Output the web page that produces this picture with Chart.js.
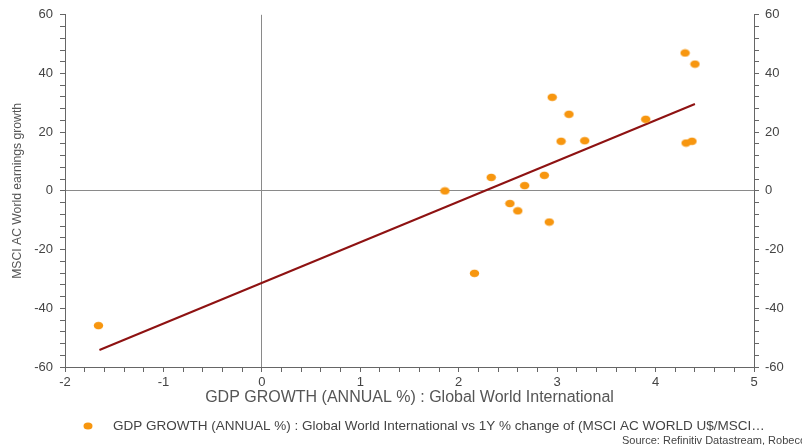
<!DOCTYPE html>
<html>
<head>
<meta charset="utf-8">
<script src="https://cdn.jsdelivr.net/npm/chart.js@4.4.0/dist/chart.umd.min.js"></script>
<style>
  html, body { margin: 0; padding: 0; background: #fff; }
  #wrap { width: 802px; height: 445px; position: relative; }
</style>
</head>
<body>
<div id="wrap"><canvas id="scatter"></canvas></div>
<script>
// GDP growth (x) vs MSCI AC World earnings growth (y)
var gdpGrowth = [-1.66, 1.86, 2.16, 2.33, 2.52, 2.60, 2.67, 2.87, 2.92, 2.95, 3.04, 3.12, 3.28, 3.90, 4.30, 4.31, 4.37, 4.40];
var earningsGrowth = [-45.9, 0.0, -28.1, 4.6, -4.3, -6.8, 1.8, 5.3, -10.6, 31.9, 16.9, 26.1, 17.1, 24.4, 47.0, 16.3, 16.9, 43.2];

// trend line end points
var trendX = [-1.65, 4.40];
var trendY = [-54.2, 29.6];

var xTicks = [-2, -1, 0, 1, 2, 3, 4, 5];
var yTicks = [-60, -40, -20, 0, 20, 40, 60];

var xTitle = 'GDP GROWTH (ANNUAL %) : Global World International';
var yTitle = 'MSCI AC World earnings growth';
var legendText = 'GDP GROWTH (ANNUAL %) : Global World International vs 1Y % change of (MSCI AC WORLD U$/MSCI\u2026';
var sourceText = 'Source: Refinitiv Datastream, Robeco';

var orange = '#F7960F';
var darkRed = '#8E1212';
var axisGrey = '#666';
var textGrey = '#444';
var FONT = '"Liberation Sans", Arial, sans-serif';

var punkte = gdpGrowth.map(function(x, i) { return { x: x, y: earningsGrowth[i] }; });
var linie = trendX.map(function(x, i) { return { x: x, y: trendY[i] }; });

// slightly flat dot, like the original export
var dot = document.createElement('canvas');
dot.width = 11;
dot.height = 9;
(function() {
    var d = dot.getContext('2d');
    d.fillStyle = orange;
    d.beginPath();
    d.ellipse(5.5, 4.5, 4.7, 3.8, 0, 0, Math.PI * 2);
    d.fill();
})();

function isMajor(v, list) {
    return list.some(function(t) { return Math.abs(t - v) < 1e-6; });
}

// legend + source drawn by hand below the axis
var extraText = {
    id: 'extraText',
    afterDraw: function(chart) {
        var c = chart.ctx;
        c.save();
        c.fillStyle = orange;
        c.beginPath();
        c.ellipse(88, 426, 4.5, 3.6, 0, 0, Math.PI * 2);
        c.fill();
        c.fillStyle = textGrey;
        c.font = '13.5px ' + FONT;
        c.textBaseline = 'middle';
        c.textAlign = 'left';
        c.fillText(legendText, 113, 426);
        c.font = '11px ' + FONT;
        c.fillText(sourceText, 622, 441);
        c.restore();
    }
};

var ctx = document.getElementById('scatter').getContext('2d');
var chart = new Chart(ctx, {
    type: 'scatter',
    data: {
        datasets: [{
            label: 'points',
            data: punkte,
            pointStyle: dot,
            backgroundColor: orange,
            borderColor: orange,
            order: 1
        }, {
            label: 'trend',
            type: 'line',
            data: linie,
            borderColor: darkRed,
            borderWidth: 2,
            pointRadius: 0,
            fill: false,
            order: 2
        }]
    },
    options: {
        responsive: true,
        maintainAspectRatio: false,
        animation: false,
        layout: { padding: { left: 10, right: 0, top: 14, bottom: 38 } },
        plugins: {
            legend: { display: false },
            tooltip: { enabled: false }
        },
        scales: {
            x: {
                type: 'linear',
                min: -2,
                max: 5,
                afterBuildTicks: function(s) {
                    var t = [];
                    for (var i = -20; i <= 50; i += 2) t.push({ value: i / 10 });
                    s.ticks = t;
                },
                afterFit: function(s) { s.height = 40; },
                ticks: {
                    autoSkip: false,
                    maxRotation: 0,
                    padding: 3,
                    color: textGrey,
                    font: { family: FONT, size: 13 },
                    callback: function(v) { return isMajor(v, xTicks) ? String(Math.round(v)) : ''; }
                },
                grid: {
                    drawOnChartArea: true,
                    tickLength: 5,
                    color: function(c) { return c.tick && Math.abs(c.tick.value) < 1e-6 ? '#8a8a8a' : 'rgba(0,0,0,0)'; },
                    tickColor: axisGrey
                },
                border: { display: true, color: axisGrey, width: 1 },
                title: {
                    display: true,
                    text: xTitle,
                    color: '#555',
                    font: { family: FONT, size: 16 },
                    padding: { top: -3, bottom: 0 }
                }
            },
            y: {
                position: 'left',
                min: -60,
                max: 60,
                afterBuildTicks: function(s) {
                    var t = [];
                    for (var v = -60; v <= 60; v += 4) t.push({ value: v });
                    s.ticks = t;
                },
                afterFit: function(s) { s.width = 55; },
                ticks: {
                    autoSkip: false,
                    padding: 7,
                    color: textGrey,
                    font: { family: FONT, size: 13 },
                    callback: function(v) { return isMajor(v, yTicks) ? String(v) : ''; }
                },
                grid: {
                    drawOnChartArea: true,
                    tickLength: 5,
                    color: function(c) { return c.tick && c.tick.value === 0 ? '#8a8a8a' : 'rgba(0,0,0,0)'; },
                    tickColor: axisGrey
                },
                border: { display: true, color: axisGrey, width: 1 },
                title: {
                    display: true,
                    text: yTitle,
                    color: '#555',
                    font: { family: FONT, size: 12.2 },
                    padding: { top: 0, bottom: 0 }
                }
            },
            y2: {
                position: 'right',
                min: -60,
                max: 60,
                afterBuildTicks: function(s) {
                    var t = [];
                    for (var v = -60; v <= 60; v += 4) t.push({ value: v });
                    s.ticks = t;
                },
                afterFit: function(s) { s.width = 48; },
                ticks: {
                    autoSkip: false,
                    padding: 6,
                    color: textGrey,
                    font: { family: FONT, size: 13 },
                    callback: function(v) { return isMajor(v, yTicks) ? String(v) : ''; }
                },
                grid: { drawOnChartArea: false, tickLength: 5, tickColor: axisGrey },
                border: { display: true, color: axisGrey, width: 1 }
            }
        }
    },
    plugins: [extraText]
});
</script>
</body>
</html>
